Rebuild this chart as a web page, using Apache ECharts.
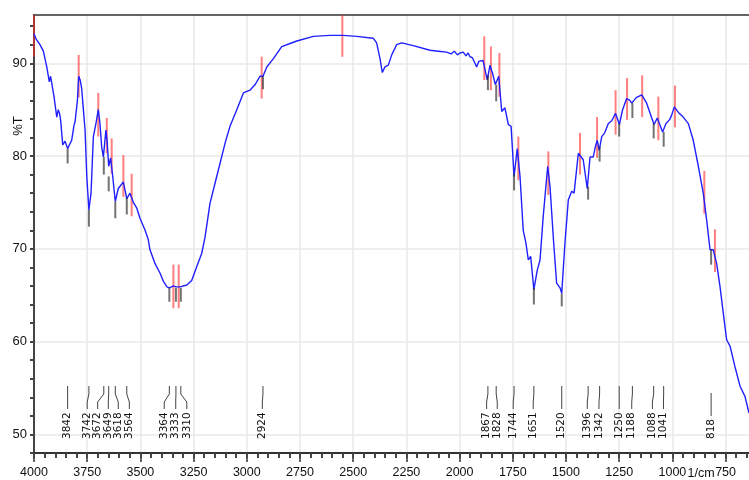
<!DOCTYPE html>
<html>
<head>
<meta charset="utf-8">
<script src="https://cdn.jsdelivr.net/npm/echarts@6/dist/echarts.min.js"></script>
<style>
html, body { margin: 0; padding: 0; background: #fff; }
#main { width: 749px; height: 480px; }
</style>
</head>
<body>
<div id="main"></div>
<script>
// spectrum, wavenumber (1/cm) and %T
var wavenumbers = [4000, 3990, 3972, 3956, 3940, 3928, 3922, 3917, 3906, 3893, 3886, 3880, 3875, 3865, 3854, 3842, 3835, 3823, 3812, 3807, 3796, 3790, 3783, 3776, 3768, 3760, 3752, 3742, 3732, 3721, 3709, 3698, 3690, 3682, 3674, 3662, 3656, 3649, 3640, 3630, 3618, 3604, 3595, 3580, 3572, 3564, 3549, 3533, 3517, 3502, 3478, 3463, 3455, 3431, 3408, 3392, 3375, 3364, 3345, 3333, 3314, 3282, 3259, 3235, 3212, 3196, 3173, 3149, 3126, 3102, 3079, 3047, 3016, 2985, 2961, 2938, 2924, 2906, 2875, 2836, 2800, 2765, 2687, 2609, 2547, 2484, 2406, 2390, 2374, 2363, 2351, 2335, 2319, 2296, 2272, 2218, 2139, 2100, 2061, 2040, 2025, 2010, 1998, 1983, 1970, 1960, 1951, 1940, 1930, 1920, 1910, 1904, 1890, 1881, 1870, 1857, 1845, 1832, 1816, 1802, 1787, 1771, 1758, 1744, 1729, 1716, 1701, 1688, 1677, 1666, 1651, 1635, 1622, 1607, 1586, 1575, 1559, 1544, 1528, 1520, 1505, 1489, 1473, 1462, 1442, 1434, 1419, 1400, 1387, 1372, 1362, 1353, 1344, 1332, 1318, 1301, 1285, 1267, 1249, 1234, 1215, 1200, 1191, 1170, 1144, 1121, 1097, 1086, 1071, 1046, 1030, 1014, 1005, 991, 972, 949, 925, 902, 878, 855, 839, 823, 808, 792, 776, 761, 745, 729, 706, 682, 659, 640];
var transmittance = [93.2, 92.6, 92.0, 91.3, 89.6, 88.0, 88.6, 88.7, 86.4, 84.2, 85.0, 84.6, 83.9, 81.2, 81.6, 80.8, 81.0, 81.7, 83.3, 83.7, 86.0, 88.6, 88.2, 87.3, 85.0, 82.8, 77.8, 74.2, 76.0, 82.1, 83.5, 85.0, 83.5, 81.0, 79.9, 82.8, 81.5, 78.9, 79.8, 77.8, 75.1, 76.5, 76.3, 77.2, 76.3, 75.4, 76.0, 75.0, 74.4, 73.3, 72.0, 71.0, 69.9, 68.4, 67.4, 66.5, 65.9, 65.8, 66.0, 65.9, 65.9, 66.1, 66.6, 68.1, 69.5, 71.3, 74.9, 77.1, 79.2, 81.4, 83.2, 85.0, 86.8, 87.1, 87.7, 88.6, 88.6, 89.6, 90.5, 91.8, 92.1, 92.4, 92.9, 93.0, 93.0, 92.9, 92.7, 92.2, 90.5, 89.0, 89.6, 89.8, 90.9, 92.0, 92.2, 91.9, 91.4, 91.3, 91.2, 91.0, 91.3, 90.9, 91.1, 91.2, 90.8, 91.1, 90.7, 90.6, 90.1, 89.6, 90.2, 90.4, 90.3, 90.2, 88.2, 89.8, 88.9, 87.7, 88.6, 84.8, 85.2, 83.4, 83.2, 77.8, 80.8, 77.8, 72.0, 70.6, 68.8, 69.2, 65.6, 67.7, 68.8, 73.5, 78.9, 76.7, 71.0, 66.3, 65.8, 65.2, 70.6, 75.3, 76.2, 76.0, 80.3, 80.5, 79.6, 76.5, 79.9, 79.9, 81.0, 81.7, 80.6, 82.1, 82.5, 83.5, 83.8, 84.6, 83.4, 85.0, 86.2, 86.0, 85.7, 86.3, 86.6, 85.7, 84.1, 83.4, 84.1, 82.6, 83.5, 83.9, 84.3, 85.3, 84.7, 84.2, 83.5, 81.7, 78.9, 76.0, 73.1, 69.9, 69.9, 68.4, 65.9, 63.1, 60.2, 59.5, 57.3, 55.2, 54.1, 52.3];

// labelled peaks (black marks) and where their text sits
var peakNums = [3842, 3742, 3672, 3649, 3618, 3564, 3364, 3333, 3310, 2924, 1867, 1828, 1744, 1651, 1520, 1396, 1342, 1250, 1188, 1088, 1041, 818];
var peakTop = [80.8, 74.2, 79.9, 77.8, 75.1, 75.5, 65.8, 65.8, 65.8, 88.6, 88.7, 87.7, 78.1, 65.8, 65.2, 76.7, 81.0, 83.5, 85.7, 83.5, 82.6, 69.9];
var peakBottom = [79.2, 72.4, 78.0, 76.2, 73.3, 73.7, 64.3, 64.3, 64.3, 87.2, 87.1, 85.9, 76.3, 64.0, 63.8, 75.3, 79.4, 82.1, 84.1, 81.9, 81.0, 68.3];
var labelAt = [3842, 3750, 3701, 3651, 3604, 3552, 3388, 3334, 3282, 2927, 1873, 1823, 1748, 1654, 1520, 1400, 1345, 1250, 1191, 1094, 1042, 818];

// red marks
var redNums = [4000, 3790, 3698, 3658, 3635, 3580, 3541, 3345, 3320, 2930, 2551, 1884, 1853, 1813, 1724, 1583, 1434, 1354, 1267, 1213, 1142, 1066, 988, 850, 800];
var redTop = [95.2, 90.9, 86.8, 84.1, 81.9, 80.1, 78.1, 68.3, 68.3, 90.7, 95.2, 92.9, 91.8, 91.1, 82.1, 80.5, 82.5, 84.2, 87.1, 88.4, 88.7, 86.4, 87.6, 78.4, 72.1];
var redBottom = [90.7, 86.3, 82.1, 80.3, 78.1, 75.6, 73.5, 63.6, 63.6, 86.2, 90.7, 88.2, 87.1, 86.4, 77.4, 75.8, 78.0, 79.8, 82.3, 83.9, 84.2, 81.7, 83.1, 73.8, 67.5];

var xMajor = [750, 1000, 1250, 1500, 1750, 2000, 2250, 2500, 2750, 3000, 3250, 3500, 3750, 4000];
var yMajor = [50, 60, 70, 80, 90];
var xMinor = [];
for (var t = 650; t <= 4000; t += 50) xMinor.push(t);
var yMinor = [];
for (var u = 48; u <= 94; u += 2) yMinor.push(u);

var narrowFont = '"Liberation Sans Narrow", "Arial Narrow", "Liberation Sans", sans-serif';

var chart = echarts.init(document.getElementById('main'), null, { renderer: 'canvas' });

function plain(v) {
  return String(v);
}

function segRenderer(color) {
  return function (params, api) {
    var a = api.coord([api.value(0), api.value(1)]);
    var b = api.coord([api.value(0), api.value(2)]);
    return {
      type: 'line',
      shape: { x1: a[0], y1: a[1], x2: b[0], y2: b[1] },
      style: { stroke: color, lineWidth: 2 }
    };
  };
}

function renderPeakLabel(params, api) {
  var w = api.value(0);
  var at = api.value(2);
  var base = api.coord([w, 48]);
  var x0 = base[0];
  var x1 = api.coord([at, 48])[0];
  var text = String(w);
  var textBottom = base[1] - 14;
  var textTop = textBottom - text.length * 7;
  var lb = textTop - 2;
  var lt = lb - 23;
  return {
    type: 'group',
    children: [
      {
        type: 'polyline',
        shape: { points: [[x0, lt], [x0, lt + 8], [x1, lt + 16], [x1, lb]] },
        style: { stroke: '#444', lineWidth: 1, fill: null }
      },
      {
        type: 'text',
        x: x1,
        y: textBottom,
        rotation: Math.PI / 2,
        style: {
          text: text,
          fontSize: 10.5,
          fontFamily: 'DejaVu Sans',
          fill: '#111',
          align: 'left',
          verticalAlign: 'middle'
        }
      }
    ]
  };
}

var option = {
  animation: false,
  backgroundColor: '#fff',
  grid: { left: 34, right: 0, top: 15, bottom: 27 },
  xAxis: [
    {
      type: 'value', inverse: true, min: 640, max: 4000, position: 'bottom',
      axisLine: { show: true, onZero: false, lineStyle: { color: '#333', width: 2 } },
      axisTick: { show: true, customValues: xMajor, length: 9, lineStyle: { color: '#333', width: 1.5 } },
      axisLabel: { customValues: xMajor, formatter: plain, margin: 13, fontSize: 12.5, fontFamily: narrowFont, color: '#111' },
      splitLine: { show: true, lineStyle: { color: '#e8e8e8', width: 1.5 } }
    },
    {
      type: 'value', inverse: true, min: 640, max: 4000, position: 'bottom',
      axisLine: { show: false },
      axisTick: { show: true, customValues: xMinor, length: 5, lineStyle: { color: '#444', width: 2 } },
      axisLabel: { show: false },
      splitLine: { show: false }
    },
    {
      type: 'value', inverse: true, min: 640, max: 4000, position: 'top',
      axisLine: { show: true, onZero: false, lineStyle: { color: '#333', width: 1.5 } },
      axisTick: { show: false },
      axisLabel: { show: false },
      splitLine: { show: false }
    }
  ],
  yAxis: [
    {
      type: 'value', min: 48, max: 95.2, position: 'left',
      axisLine: { show: true, onZero: false, lineStyle: { color: '#444', width: 2 } },
      axisTick: { show: true, customValues: yMajor, length: 4, lineStyle: { color: '#333', width: 2 } },
      axisLabel: { customValues: yMajor, formatter: plain, margin: 7, fontSize: 13, fontFamily: narrowFont, color: '#111' },
      splitLine: { show: true, lineStyle: { color: '#e8e8e8', width: 1.5 } }
    },
    {
      type: 'value', min: 48, max: 95.2, position: 'left',
      axisLine: { show: false },
      axisTick: { show: true, customValues: yMinor, length: 4, lineStyle: { color: '#444', width: 2 } },
      axisLabel: { show: false },
      splitLine: { show: false }
    }
  ],
  graphic: [
    {
      type: 'text', x: 18, y: 126, rotation: Math.PI / 2,
      style: { text: '%T', fontSize: 13, fontFamily: narrowFont, fill: '#111', align: 'center', verticalAlign: 'middle' }
    },
    {
      type: 'text', x: 701, y: 474,
      style: { text: '1/cm', fontSize: 12.5, fontFamily: narrowFont, fill: '#111', align: 'center', verticalAlign: 'middle' }
    }
  ],
  series: [
    {
      type: 'custom',
      xAxisIndex: 0, yAxisIndex: 0,
      renderItem: segRenderer('rgba(255,40,40,0.6)'),
      encode: { x: 0, y: [1, 2] },
      data: redNums.map(function (w, i) { return [w, redTop[i], redBottom[i]]; }),
      z: 3
    },
    {
      type: 'line',
      xAxisIndex: 0, yAxisIndex: 0,
      data: wavenumbers.map(function (w, i) { return [w, transmittance[i]]; }),
      showSymbol: false,
      lineStyle: { color: '#2020ff', width: 1.4 },
      z: 4
    },
    {
      type: 'custom',
      xAxisIndex: 0, yAxisIndex: 0,
      renderItem: segRenderer('rgba(40,40,40,0.65)'),
      encode: { x: 0, y: [1, 2] },
      data: peakNums.map(function (w, i) { return [w, peakTop[i], peakBottom[i]]; }),
      z: 5
    },
    {
      type: 'custom',
      xAxisIndex: 0, yAxisIndex: 0,
      renderItem: renderPeakLabel,
      encode: { x: 0, y: 1 },
      clip: false,
      data: peakNums.map(function (w, i) { return [w, 50, labelAt[i]]; }),
      z: 5
    }
  ]
};

chart.setOption(option);
</script>
</body>
</html>
